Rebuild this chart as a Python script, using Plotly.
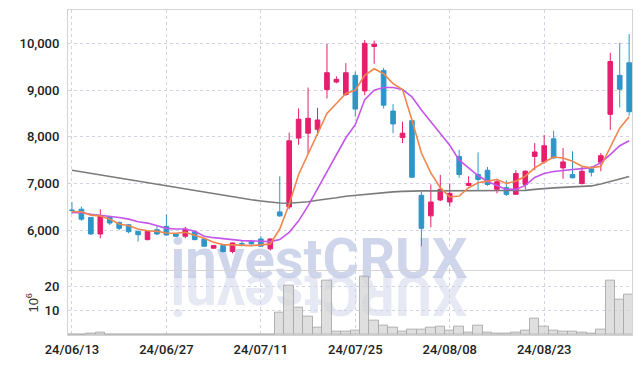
import plotly.graph_objects as go

dates = ["24/06/13","24/06/14","24/06/17","24/06/18","24/06/19","24/06/20","24/06/21","24/06/24","24/06/25","24/06/26",
         "24/06/27","24/06/28","24/07/01","24/07/02","24/07/03","24/07/04","24/07/05","24/07/08","24/07/09","24/07/10",
         "24/07/11","24/07/12","24/07/15","24/07/16","24/07/17","24/07/18","24/07/19","24/07/22","24/07/23","24/07/24",
         "24/07/25","24/07/26","24/07/29","24/07/30","24/07/31","24/08/01","24/08/02","24/08/05","24/08/06","24/08/07",
         "24/08/08","24/08/09","24/08/12","24/08/13","24/08/14","24/08/16","24/08/19","24/08/20","24/08/21","24/08/22",
         "24/08/23","24/08/26","24/08/27","24/08/28","24/08/29","24/08/30","24/09/02","24/09/03","24/09/04","24/09/05"]

open_ = [6430,6447,6270,5915,6270,6164,6113,5972,5794,6006,
         6079,5915,5866,5964,5808,5610,5666,5538,5710,5750,
         5808,5596,6389,6496,7973,8079,8164,9015,9177,8909,
         9320,8986,9940,9426,8554,7985,8347,6745,6304,6645,
         6602,7581,6958,7192,7283,6873,6909,6766,6979,7581,
         7462,7958,7334,7192,7000,7313,7454,8483,9320,9590]
high = [6600,6504,6280,6447,6304,6180,6130,5990,5980,6080,
        6340,5930,6070,5990,5820,5680,5680,5730,5780,5790,
        5870,5820,7155,8092,8611,9058,8624,9994,9300,9581,
        9400,10080,10065,9483,8703,8326,8360,6815,6979,7185,
        7000,7724,7155,7666,7355,7100,7064,7283,7283,7866,
        8043,8128,7760,7688,7355,7370,7653,9803,10015,10207]
low = [6350,6198,5894,5823,6106,6000,5930,5751,5780,5890,
       5880,5850,5823,5780,5640,5600,5520,5500,5650,5690,
       5640,5560,6280,6450,7830,7639,8022,8824,9150,8880,
       8432,8894,9569,8611,8079,7866,7120,5653,6057,6620,
       6504,7121,6940,6858,6950,6787,6730,6760,6872,7283,
       7426,7530,7100,7110,6979,7150,7262,8150,8632,8454]
close = [6420,6234,5915,6304,6150,6036,5964,5900,5972,5915,
         5894,5866,6021,5794,5653,5666,5538,5723,5700,5702,
         5653,5808,6304,7915,8377,8398,8362,9377,9235,9377,
         8596,10007,9990,8681,8277,8079,7134,6036,6602,6873,
         6787,7192,7000,7085,6979,7036,6766,7213,7262,7675,
         7809,7547,7462,7121,7262,7241,7596,9617,9022,8540]

ma_short = [6398,6390,6319,6304,6234,6128,6092,6021,5986,5972,
            5936,5930,5951,5894,5823,5738,5687,5681,5666,5666,
            5681,5702,6021,6553,7192,7617,8079,8504,8717,8930,
            9000,9320,9462,9355,9142,9015,8362,7653,7228,6909,
            6709,6730,6909,7015,7049,7085,7000,7049,7155,7334,
            7454,7568,7547,7475,7368,7334,7368,7794,8185,8432]
ma_mid = [6377,6370,6340,6319,6304,6270,6234,6177,6149,6092,
          6036,6021,6021,5972,5866,5836,5823,5794,5773,5759,
          5759,5751,5794,5951,6198,6517,6880,7250,7620,7980,
          8260,8800,9000,9058,9058,9015,8858,8575,8326,8079,
          7820,7500,7341,7170,7043,6958,6872,6872,6958,7128,
          7213,7256,7277,7298,7319,7340,7447,7617,7809,7915]
ma_long = [7283,7249,7215,7181,7147,7113,7079,7045,7011,6977,
           6943,6911,6879,6847,6815,6777,6745,6713,6681,6649,
           6624,6596,6579,6575,6585,6606,6638,6660,6692,6724,
           6745,6766,6787,6809,6819,6830,6841,6841,6841,6841,
           6841,6841,6841,6841,6841,6841,6841,6841,6851,6872,
           6894,6904,6915,6926,6936,6947,6990,7043,7096,7149]

volume_m = [0.05,0.05,0.4,0.8,0.05,0.05,0.05,0.05,0.05,0.05,
            0.05,0.05,0.05,0.05,0.05,0.05,0.05,0.05,0.05,0.05,
            0.05,0.3,9.3,20.5,11.3,7.6,3.1,22.3,1.2,1.2,
            1.6,24.0,6.0,4.0,2.9,1.5,2.4,2.0,2.9,3.3,
            1.6,3.5,0.8,4.0,0.8,0.7,0.4,1.1,1.6,6.9,
            3.5,1.6,1.2,1.2,0.8,0.4,2.4,22.3,14.7,16.5]

price_ticks = [6000, 7000, 8000, 9000, 10000]
volume_ticks = [10, 20]
date_ticks = [dates[i] for i in range(0, len(dates), 10)]

UP = "#e61e6e"
DOWN = "#2d96c8"
GRID = "#d2d2e4"
AXLINE = "#d4d4d4"
TICKFONT = dict(family="Roboto", size=13, color="#222222", weight=500)

fig = go.Figure()

fig.add_trace(go.Scatter(x=dates, y=ma_long, mode="lines", line=dict(color="#7b7b7b", width=1.6),
                         xaxis="x", yaxis="y", showlegend=False))
fig.add_trace(go.Scatter(x=dates, y=ma_mid, mode="lines", line=dict(color="#c455ea", width=1.6),
                         xaxis="x", yaxis="y", showlegend=False))
fig.add_trace(go.Scatter(x=dates, y=ma_short, mode="lines", line=dict(color="#f0864c", width=1.6),
                         xaxis="x", yaxis="y", showlegend=False))
fig.add_trace(go.Candlestick(x=dates, open=open_, high=high, low=low, close=close,
                             increasing=dict(line=dict(color=UP, width=1), fillcolor=UP),
                             decreasing=dict(line=dict(color=DOWN, width=1), fillcolor=DOWN),
                             whiskerwidth=0, xaxis="x", yaxis="y", showlegend=False))
fig.add_trace(go.Bar(x=dates, y=volume_m, width=1.0,
                     marker=dict(color="rgba(210,210,210,0.7)", line=dict(color="rgba(170,170,170,0.9)", width=1)),
                     xaxis="x2", yaxis="y2", showlegend=False))

fig.add_shape(type="rect", xref="paper", yref="paper", x0=0.14, x1=0.75, y0=0.175, y1=0.318,
              line=dict(width=0), fillcolor="rgba(0,0,0,0)", layer="below",
              label=dict(text="<b>investCRUX</b>", textposition="middle center",
                         font=dict(family="Roboto", size=56, color="rgba(178,189,222,0.62)")))
fig.add_shape(type="rect", xref="paper", yref="paper", x0=0.14, x1=0.75, y0=0.04, y1=0.184,
              line=dict(width=0), fillcolor="rgba(0,0,0,0)", layer="below",
              label=dict(text="<b>XURCtsevni</b>", textposition="middle center", textangle=180,
                         font=dict(family="Roboto", size=56, color="rgba(195,202,228,0.42)")))

axis_common = dict(showgrid=True, gridcolor=GRID, griddash="dot", gridwidth=1,
                   showline=True, linecolor=AXLINE, linewidth=1, mirror=True, zeroline=False)

fig.update_layout(
    width=642, height=366,
    margin=dict(l=68, r=9, t=9, b=29),
    paper_bgcolor="white", plot_bgcolor="white",
    showlegend=False,
    bargap=0,
    xaxis=dict(domain=[0, 1], anchor="y", type="category", matches="x2", range=[-0.42, 59.3],
               tickvals=date_ticks, showticklabels=False, ticks="", rangeslider=dict(visible=False),
               **axis_common),
    yaxis=dict(domain=[0.201, 1], anchor="x", range=[5149, 10723], tickvals=price_ticks,
               tickformat=",d", ticks="", tickfont=TICKFONT, ticklabelstandoff=5, **axis_common),
    xaxis2=dict(domain=[0, 1], anchor="y2", type="category", range=[-0.42, 59.3],
                tickvals=date_ticks, ticktext=date_ticks, ticks="", tickfont=TICKFONT,
                ticklabelstandoff=2, rangeslider=dict(visible=False), **axis_common),
    yaxis2=dict(domain=[0, 0.198], anchor="x2", range=[0, 26.5], tickvals=volume_ticks, ticks="",
                tickfont=TICKFONT, ticklabelstandoff=5,
                title=dict(text="10<sup>6</sup>", font=dict(family="Liberation Sans", size=13, color="#333"), standoff=3),
                **axis_common),
)

fig.write_html("out.html")
